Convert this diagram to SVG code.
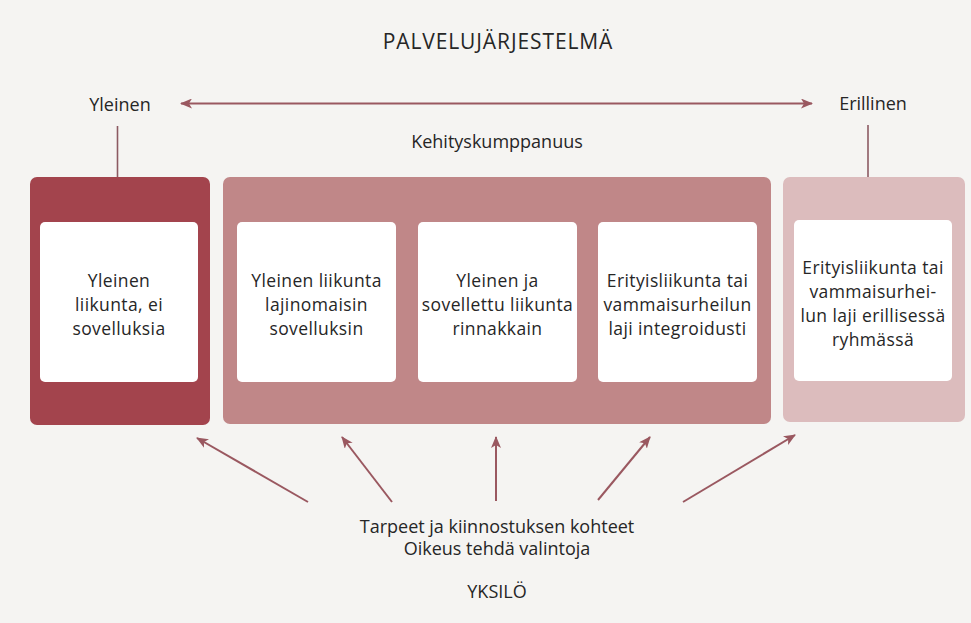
<svg xmlns="http://www.w3.org/2000/svg" width="971" height="623" viewBox="0 0 971 623">
<defs>
<marker id="ah" viewBox="0 0 12 10" refX="11" refY="5" markerWidth="12" markerHeight="10" markerUnits="userSpaceOnUse" orient="auto-start-reverse">
<path d="M0,0 L12,5 L0,10 L3,5 Z" fill="#9a5860"/>
</marker>
</defs>
<style>
text{font-family:"Open Sans","Noto Sans","Liberation Sans",sans-serif;fill:#262626;text-anchor:middle}
.lbl{font-size:18px}
.title{font-size:21px;letter-spacing:0.9px}
.bt{font-size:17.5px;letter-spacing:0.4px}
.inner{fill:#ffffff}
.ln{stroke:#9a5860;stroke-width:2;fill:none}
.vl{stroke:#8c5a62;stroke-width:1.6;fill:none}
</style>
<rect x="0" y="0" width="971" height="623" fill="#f5f4f2"/>
<g id="title"><text class="title" x="498" y="49">PALVELUJÄRJESTELMÄ</text></g>
<g id="yleinen-label"><text class="lbl" x="120" y="111">Yleinen</text></g>
<g id="erillinen-label"><text class="lbl" x="873" y="110">Erillinen</text></g>
<g id="kehitys-label"><text class="lbl" x="497" y="148">Kehityskumppanuus</text></g>
<g id="group-general">
<rect x="30" y="177" width="180" height="248" rx="7" fill="#a3444d"/>
<rect class="inner" x="40" y="222" width="158" height="160" rx="5"/>
<text class="bt" x="119" y="287">Yleinen</text>
<text class="bt" x="119" y="311">liikunta, ei</text>
<text class="bt" x="119" y="335">sovelluksia</text>
</g>
<g id="group-partnership">
<rect x="223" y="177" width="548" height="247" rx="7" fill="#c08788"/>
</g>
<g id="node-2">
<rect class="inner" x="237" y="222" width="159" height="160" rx="5"/>
<text class="bt" x="316.5" y="287">Yleinen liikunta</text>
<text class="bt" x="316.5" y="311">lajinomaisin</text>
<text class="bt" x="316.5" y="335">sovelluksin</text>
</g>
<g id="node-3">
<rect class="inner" x="418" y="222" width="159" height="160" rx="5"/>
<text class="bt" x="497.5" y="287">Yleinen ja</text>
<text class="bt" x="497.5" y="311">sovellettu liikunta</text>
<text class="bt" x="497.5" y="335">rinnakkain</text>
</g>
<g id="node-4">
<rect class="inner" x="598" y="222" width="159" height="160" rx="5"/>
<text class="bt" x="677.5" y="287">Erityisliikunta tai</text>
<text class="bt" x="677.5" y="311">vammaisurheilun</text>
<text class="bt" x="677.5" y="335">laji integroidusti</text>
</g>
<g id="group-separate">
<rect x="783" y="177" width="182" height="245" rx="7" fill="#dcbcbd"/>
<rect class="inner" x="794" y="220" width="158" height="161" rx="5"/>
<text class="bt" x="873" y="274">Erityisliikunta tai</text>
<text class="bt" x="873" y="298">vammaisurhei-</text>
<text class="bt" x="873" y="322">lun laji erillisessä</text>
<text class="bt" x="873" y="346">ryhmässä</text>
</g>
<g id="individual">
<text class="lbl" x="497" y="533">Tarpeet ja kiinnostuksen kohteet</text>
<text class="lbl" x="497" y="555">Oikeus tehdä valintoja</text>
<text class="lbl" x="497" y="598">YKSILÖ</text>
</g>
<g id="connectors">
<line class="ln" x1="181" y1="103.5" x2="812" y2="103.5" marker-start="url(#ah)" marker-end="url(#ah)"/>
<line class="vl" x1="117.5" y1="126" x2="117.5" y2="177"/>
<line class="vl" x1="868" y1="125" x2="868" y2="177"/>
<line class="ln" x1="308" y1="502" x2="197" y2="438" marker-end="url(#ah)"/>
<line class="ln" x1="392" y1="502" x2="342" y2="437" marker-end="url(#ah)"/>
<line class="ln" x1="496" y1="501" x2="496" y2="437" marker-end="url(#ah)"/>
<line class="ln" x1="598" y1="500" x2="650" y2="437" marker-end="url(#ah)"/>
<line class="ln" x1="683" y1="502" x2="795" y2="435" marker-end="url(#ah)"/>
</g>
</svg>
